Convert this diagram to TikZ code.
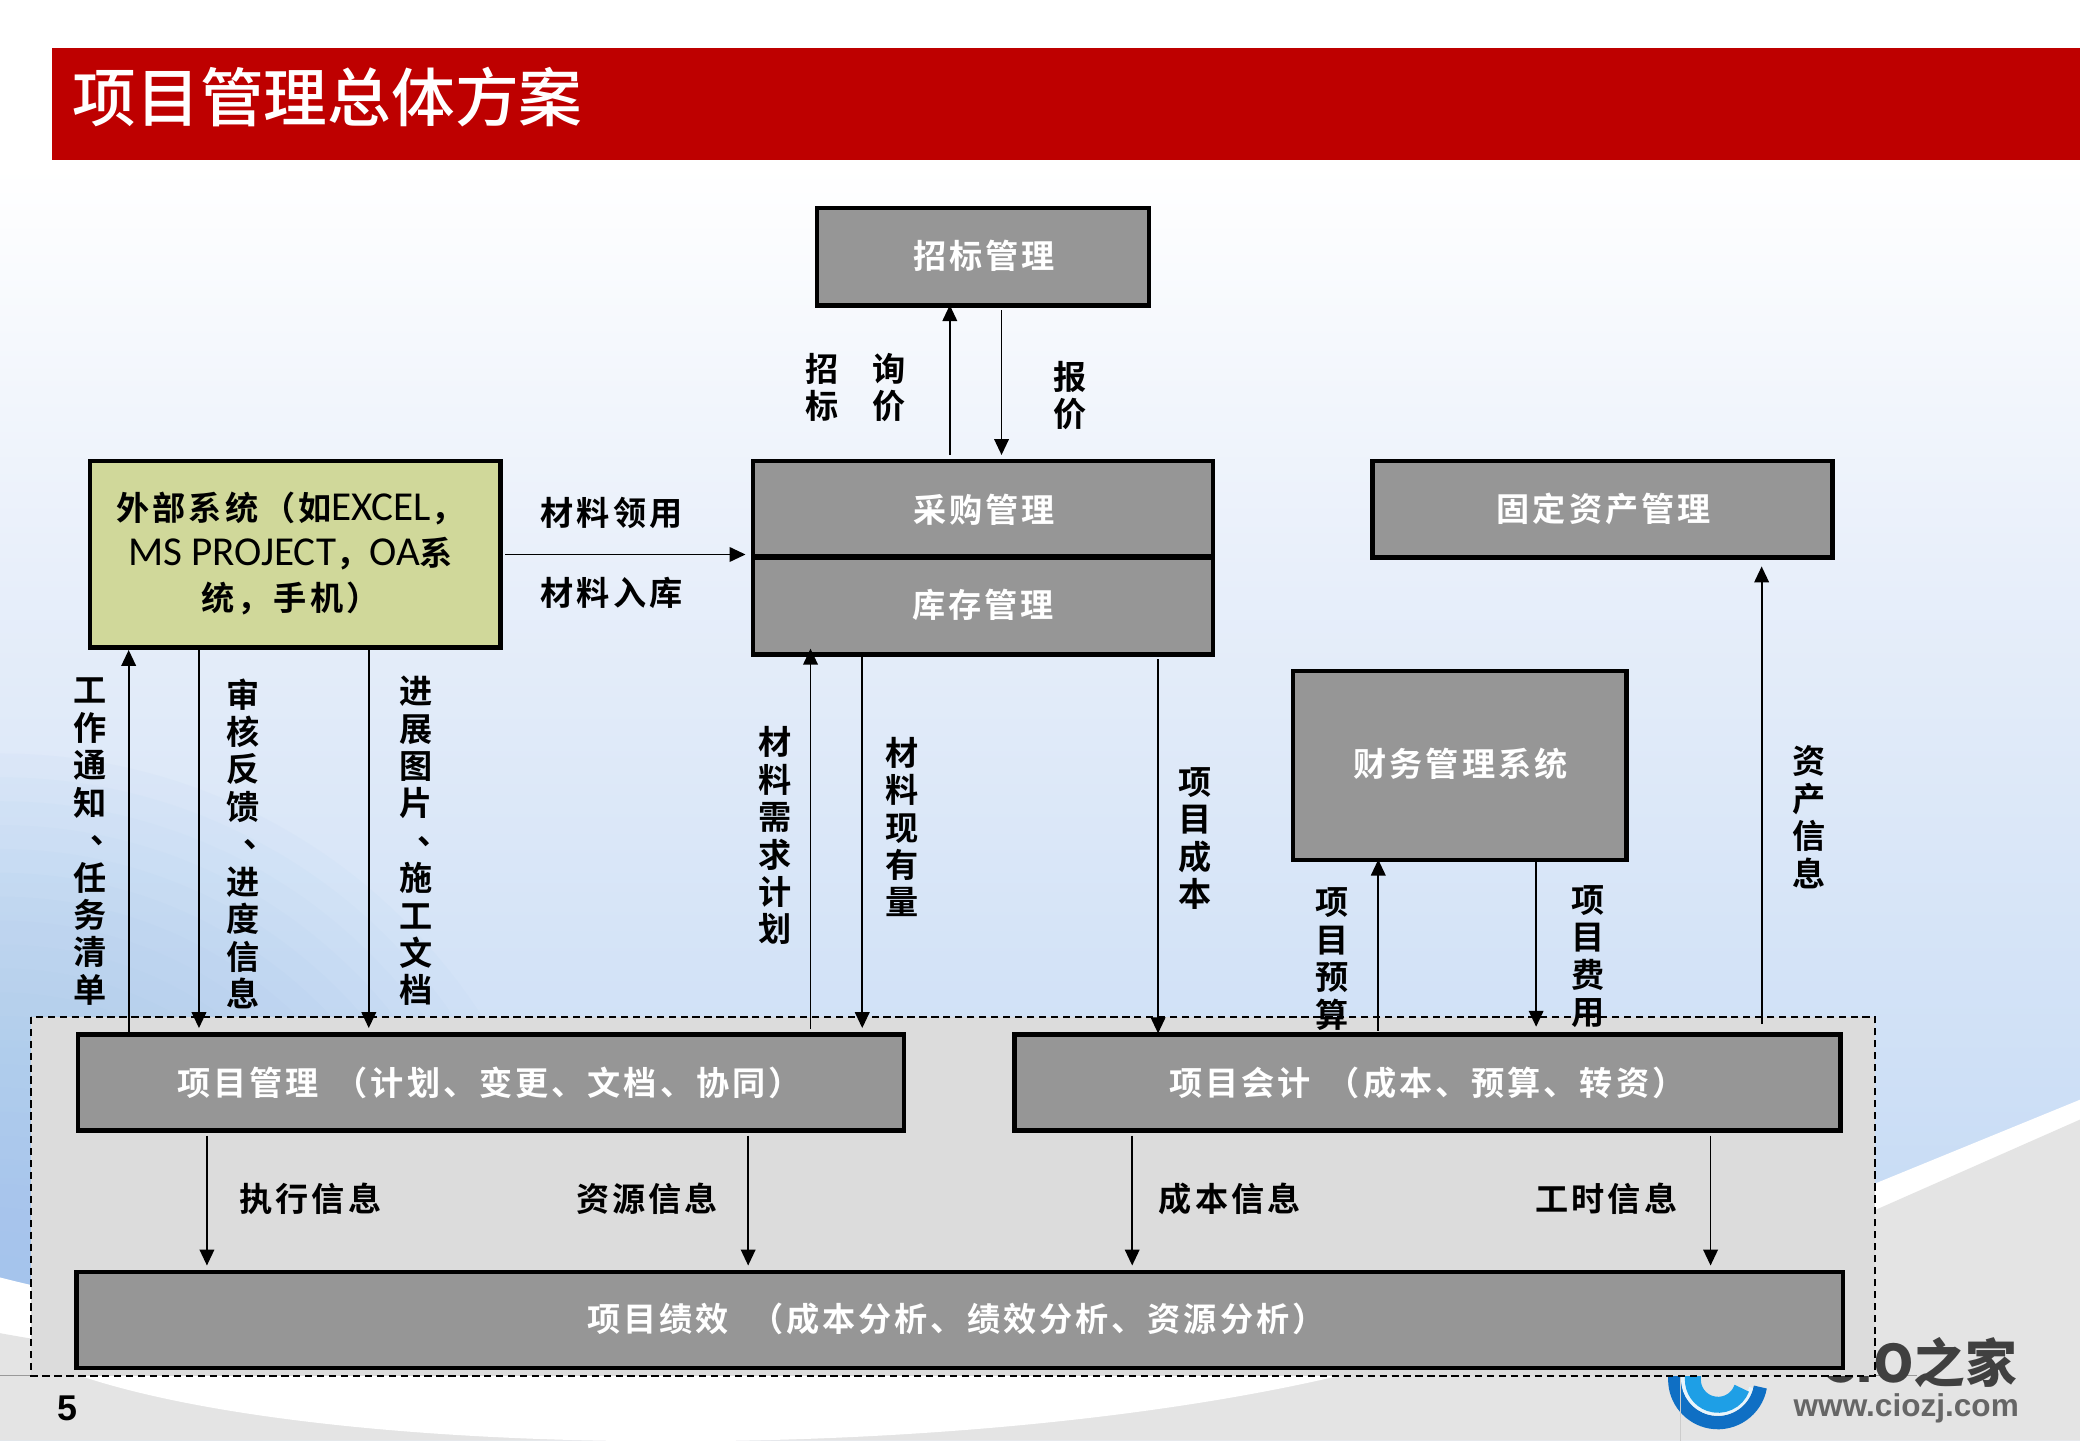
\documentclass[tikz,border=0pt]{standalone}
\usepackage{fontspec}
\usetikzlibrary{arrows.meta,calc}
\setmainfont{Noto Sans CJK SC}
\newfontfamily\lab[LetterSpace=9]{Noto Sans CJK SC Bold}
\newfontfamily\ttl{Noto Sans CJK SC Medium}
\newfontfamily\lat{Carlito}
\newfontfamily\arial{Liberation Sans}
\definecolor{barred}{HTML}{BE0000}
\definecolor{boxgray}{HTML}{969696}
\definecolor{boxgreen}{HTML}{D0D89A}
\definecolor{zone}{HTML}{DCDCDC}
\definecolor{foot}{HTML}{E4E4E4}
\definecolor{skyA}{HTML}{A0C4EC}
\definecolor{skyB}{HTML}{E8EFFA}
\definecolor{skyC}{HTML}{C8DCF5}
\definecolor{logoD}{HTML}{0F6FC4}
\definecolor{logoL}{HTML}{1E9FE6}
\tikzset{
  x=1pt,y=-1pt,
  sysbox/.style={draw=black,line width=3.4pt,fill=boxgray,text=white,font=\fontsize{25}{30}\lab,anchor=north west,inner sep=0pt,align=center},
  boxtext/.style={text=white,font=\fontsize{25}{30}\lab,inner sep=0pt,align=center},
  flow/.style={draw=black,line width=1.3pt,-{Triangle[length=12pt,width=11pt]}},
  vlab/.style={font=\fontsize{25}{28.2}\lab,align=center,inner sep=0pt,text=black},
  hlab/.style={font=\fontsize{25}{30}\lab,inner sep=0pt,text=black},
}
\newcommand{\bx}[6]{\node[sysbox,#6,minimum width=#4-#2-3.4pt,minimum height=#5-#3-3.4pt] (#1) at (#2,#3) {};}
\newcommand{\dun}{\smash{\raisebox{7pt}{\hspace*{26pt}、}}}
\newcommand{\latin}[1]{{\fontsize{31}{34}\lat #1}}
\begin{document}
\begin{tikzpicture}
\useasboundingbox (0,0) rectangle (1568,1085.6);
% background
\fill[white] (0,0) rectangle (1568,1086);
\shade[top color=white,bottom color=skyB] (0,125) rectangle (1568,430);
\shade[top color=skyB,bottom color=skyC] (0,430) rectangle (1568,900);
\fill[skyC] (0,900) rectangle (1568,1086);
\begin{scope}
  \clip (0,430) rectangle (1568,1086);
  \foreach \r in {1,...,24}
    \fill[skyA,opacity=.06] (0,1000) ellipse [x radius=\r*18,y radius=\r*18];
\end{scope}
\fill[white] (0,963) .. controls (300,1040) and (1000,1060) .. (1414,892) -- (1568,829) -- (1568,1086) -- (0,1086) -- cycle;
\fill[foot] (0,1005) .. controls (300,1060) and (1000,1075) .. (1414,912) -- (1568,844) -- (1568,1086) -- (0,1086) -- cycle;
\fill[white] (60,1037) .. controls (250,1101) and (720,1105) .. (1010,1037) -- cycle;
% logo
\draw[line width=10pt,draw=logoD,line cap=butt] (1327,1045.6) arc (10:180:32.5) -- (1262.5,1030);
\draw[line width=3pt,draw=white!90!logoL,line cap=butt] (1320,1046) arc (14:180:26) -- (1269,1030);
\draw[line width=12pt,draw=logoL,line cap=butt] (1313,1046.5) arc (20:180:19) -- (1276,1030);
% footer rules
\draw[black!40,line width=.8pt] (0,1037) -- (1445,1037);
\draw[black!20,line width=.8pt] (1266.5,1037) -- (1266.5,1086);
\node[inner sep=0pt,anchor=east,text=black!75,font=\fontsize{39}{44}\ttl\bfseries] (logoname) at (1521,1027) {CIO之家};
\node[inner sep=0pt,text=black!60,font=\fontsize{23.8}{26}\arial\bfseries] (logourl) at (1437,1062) {www.ciozj.com};
\node[inner sep=0pt,font=\fontsize{27}{30}\arial\bfseries] (pageno) at (51,1062) {5};
% title
\fill[barred] (39,36) rectangle (1568,120.5);
\node[inner sep=0pt,text=white,font=\fontsize{48}{50}\ttl] (title) at (247,73) {项目管理总体方案};
% zone
\draw[dashed,draw=black,fill=zone,line width=1.4pt,dash pattern=on 5.5pt off 3.5pt] (23.5,766.5) rectangle (1413.5,1037);
% boxes
\bx{zb}{614}{155}{868}{232}{}
\bx{wb}{66}{346}{379}{490}{fill=boxgreen}
\bx{cg}{566}{346}{916}{421}{}
\bx{kc}{566}{419}{916}{495}{}
\bx{gd}{1033}{346}{1383}{422}{}
\bx{cw}{973}{504}{1228}{650}{}
\bx{xm}{57}{778}{683}{854}{}
\bx{kj}{763}{778}{1389}{854}{}
\bx{jx}{56}{957}{1391}{1033}{}
% box texts
\node[boxtext] (tzb) at (742,193) {招标管理};
\node[boxtext] (tcg) at (742,384) {采购管理};
\node[boxtext] (tkc) at (741,456) {库存管理};
\node[boxtext] (tgd) at (1209,384) {固定资产管理};
\node[boxtext] (tcw) at (1101,576) {财务管理系统};
\node[boxtext] (txm) at (369,816) {项目管理\hspace{12pt}（计划、变更、文档、协同）};
\node[boxtext] (tkj) at (1076,816) {项目会计\hspace{12pt}（成本、预算、转资）};
\node[boxtext] (tjx) at (721,994) {项目绩效\hspace{16pt}（成本分析、绩效分析、资源分析）};
\node[hlab,align=center,font=\fontsize{25}{34}\lab] (twb) at (219,417)
  {外部系统\hspace{3pt}（如\latin{EXCEL}，\\\latin{MS PROJECT}，\latin{OA}系\\统，手机）};
% connector columns
\foreach \n/\x in {a/716,b/755,c/97,d/150,e/278,f/611,g/650,h/873,i/1039,j/1158,k/1328,l/156,m/564,n/853.5,o/1289.5}
  \coordinate (col\n) at (\x,0);
\coordinate (rowa) at (0,418);
% connectors
\draw[flow] ($(cola |- cg.north)+(0,-3)$) -- ($(cola |- zb.south)+(0,-2)$);
\draw[flow] ($(colb |- zb.south)+(0,2)$) -- ($(colb |- cg.north)+(0,-3)$);
\draw[flow] ($(wb.east |- rowa)+(2,0)$) -- ($(kc.north west |- rowa)+(-4,0)$);
\draw[flow] ($(colc |- xm.north)+(0,0)$) -- ($(colc |- wb.south)+(0,0)$);
\draw[flow] ($(cold |- wb.south)+(0,0)$) -- ($(cold |- xm.north)+(0,-3)$);
\draw[flow] ($(cole |- wb.south)+(0,0)$) -- ($(cole |- xm.north)+(0,-3)$);
\draw[flow] ($(colf |- xm.north)+(0,-2)$) -- ($(colf |- kc.south)+(0,-6)$);
\draw[flow] ($(colg |- kc.south)+(0,0)$) -- ($(colg |- xm.north)+(0,-3)$);
\draw[flow] ($(colh |- kc.south)+(0,2)$) -- ($(colh |- kj.north)+(0,1)$);
\draw[flow] ($(coli |- kj.north)+(0,-1)$) -- ($(coli |- cw.south)+(0,-2)$);
\draw[flow] ($(colj |- cw.south)+(0,0)$) -- ($(colj |- kj.north)+(0,-4)$);
\draw[flow] ($(colk |- kj.north)+(0,-6)$) -- ($(colk |- gd.south)+(0,5)$);
\draw[flow] ($(coll |- xm.south)+(0,2)$) -- ($(coll |- jx.north)+(0,-3)$);
\draw[flow] ($(colm |- xm.south)+(0,2)$) -- ($(colm |- jx.north)+(0,-3)$);
\draw[flow] ($(coln |- kj.south)+(0,2)$) -- ($(coln |- jx.north)+(0,-3)$);
\draw[flow] ($(colo |- kj.south)+(0,2)$) -- ($(colo |- jx.north)+(0,-3)$);
% vertical labels
\node[vlab] (l1) at (620,292) {招\\标};
\node[vlab] (l2) at (670,292) {询\\价};
\node[vlab] (l3) at (807,298) {报\\价};
\node[vlab] (l4) at (68,634.5) {工\\作\\通\\知\\\dun\\任\\务\\清\\单};
\node[vlab] (l5) at (183,636) {审\\核\\反\\馈\\\dun\\进\\度\\信\\息};
\node[vlab] (l6) at (314,634) {进\\展\\图\\片\\\dun\\施\\工\\文\\档};
\node[vlab] (l7) at (584,630) {材\\料\\需\\求\\计\\划};
\node[vlab] (l8) at (680,623.5) {材\\料\\现\\有\\量};
\node[vlab] (l9) at (901,632) {项\\目\\成\\本};
\node[vlab] (l10) at (1004,723) {项\\目\\预\\算};
\node[vlab] (l11) at (1197,721) {项\\目\\费\\用};
\node[vlab] (l12) at (1364,616) {资\\产\\信\\息};
% horizontal labels
\node[hlab] (h1) at (461,387) {材料领用};
\node[hlab] (h2) at (461,447) {材料入库};
\node[hlab] (h3) at (234,904) {执行信息};
\node[hlab] (h4) at (488,904) {资源信息};
\node[hlab] (h5) at (927,904) {成本信息};
\node[hlab] (h6) at (1211,904) {工时信息};
\end{tikzpicture}
\end{document}
